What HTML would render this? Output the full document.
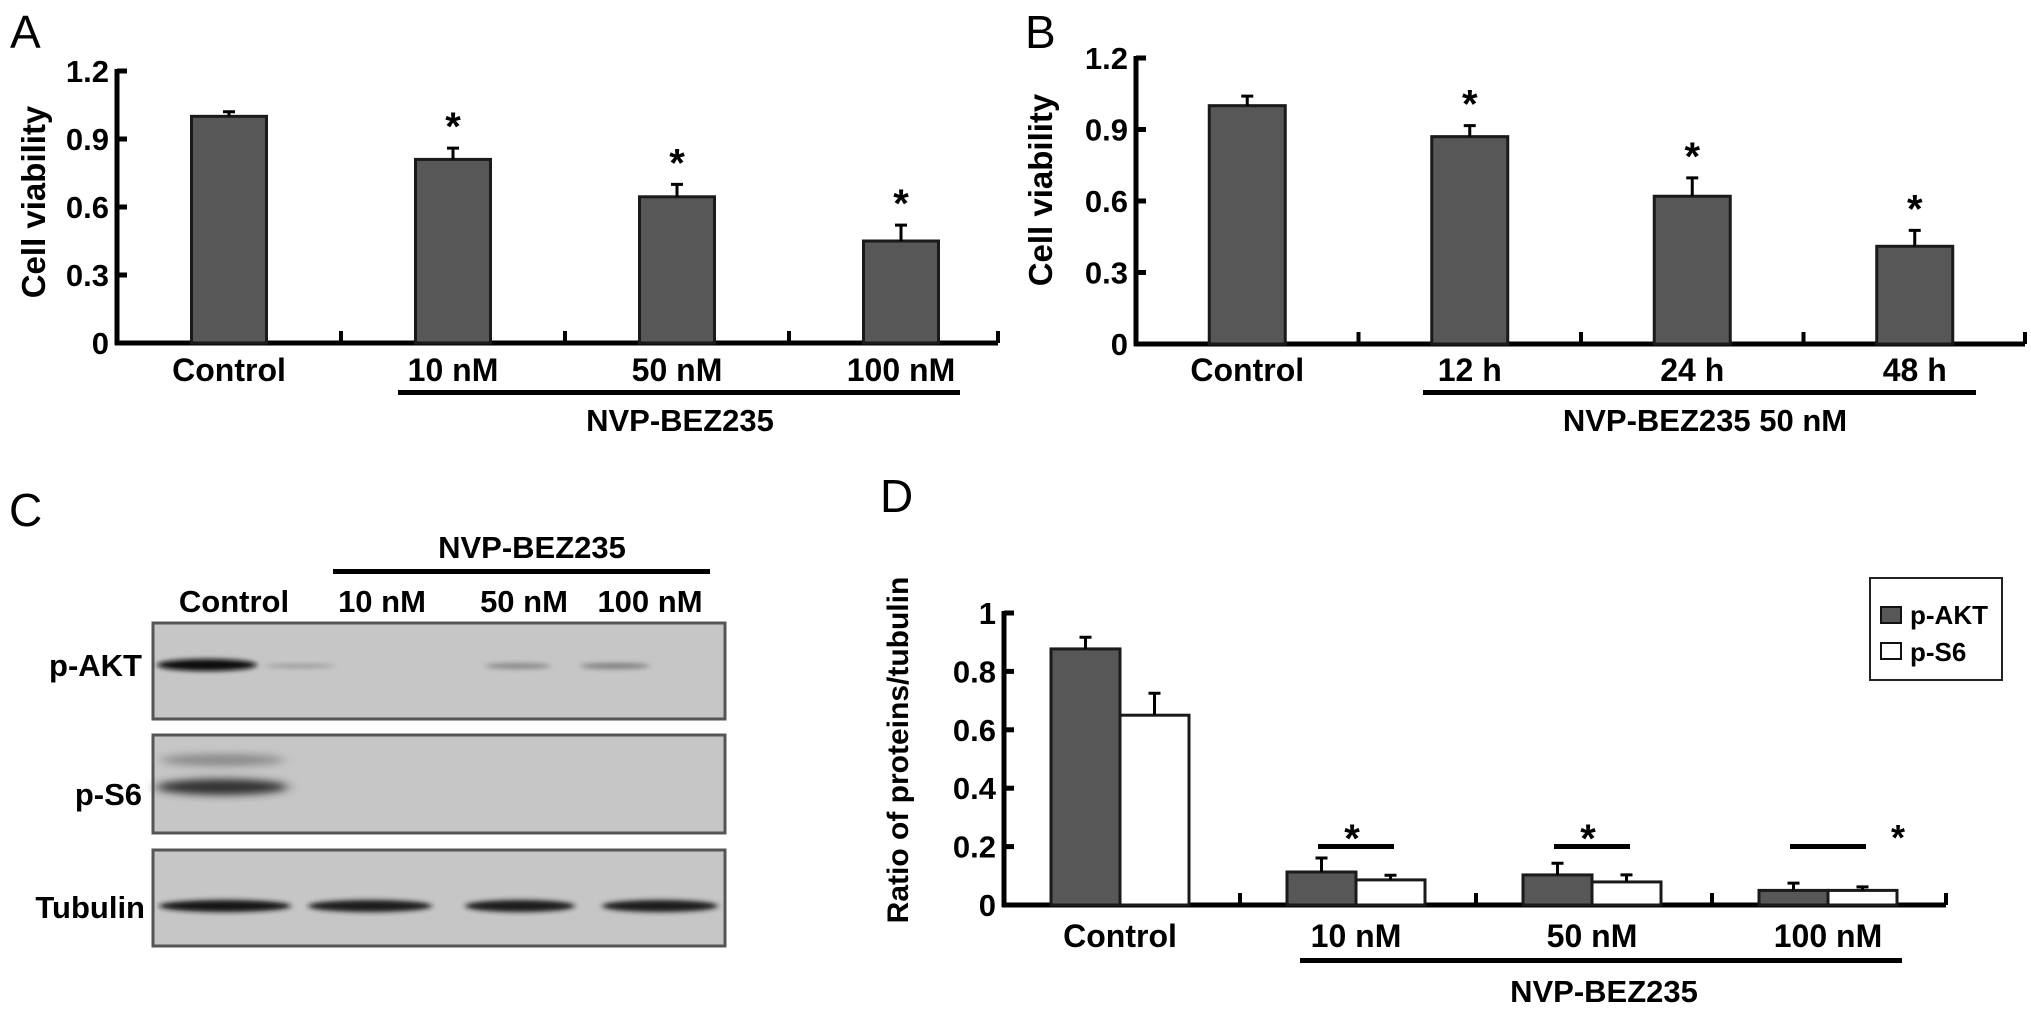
<!DOCTYPE html>
<html><head><meta charset="utf-8">
<style>
html,body{margin:0;padding:0;background:#fff;}
svg{display:block;}
text{font-family:"Liberation Sans",Arial,sans-serif;font-weight:bold;fill:#000;}
.plbl{font-weight:normal;font-size:46px;}
</style></head>
<body>
<svg id="fig" width="2031" height="1016" viewBox="0 0 2031 1016" xmlns="http://www.w3.org/2000/svg">
<defs>
<filter id="blur3" x="-20%" y="-200%" width="140%" height="500%"><feGaussianBlur stdDeviation="3 2.5"/></filter>
<filter id="blur5" x="-20%" y="-200%" width="140%" height="500%"><feGaussianBlur stdDeviation="6 4"/></filter>
</defs>
<text class="plbl" x="10" y="48">A</text>
<text class="plbl" x="1025" y="48">B</text>
<text class="plbl" x="9" y="526">C</text>
<text class="plbl" x="880" y="512">D</text>

<g id="panelA"></g>
<g id="panelB"></g>
<g id="panelD"></g>

<!-- Panel C western blot -->
<g>
  <text x="532" y="558" text-anchor="middle" font-size="31">NVP-BEZ235</text>
  <rect x="333" y="569" width="377" height="5" fill="#000"/>
  <text x="234" y="612" text-anchor="middle" font-size="31">Control</text>
  <text x="382" y="612" text-anchor="middle" font-size="31">10 nM</text>
  <text x="524" y="612" text-anchor="middle" font-size="31">50 nM</text>
  <text x="650" y="612" text-anchor="middle" font-size="31">100 nM</text>

  <text x="142" y="676" text-anchor="end" font-size="31">p-AKT</text>
  <rect x="153" y="623" width="572" height="96" fill="#c6c6c6" stroke="#555" stroke-width="3"/>
  <ellipse cx="207" cy="665" rx="50" ry="6" fill="#0a0a0a" filter="url(#blur3)"/>
  <ellipse cx="300" cy="666" rx="35" ry="2" fill="#9a9a9a" filter="url(#blur3)"/>
  <ellipse cx="518" cy="666" rx="33" ry="3" fill="#8a8a8a" filter="url(#blur3)"/>
  <ellipse cx="615" cy="666" rx="35" ry="3" fill="#808080" filter="url(#blur3)"/>

  <text x="142" y="805" text-anchor="end" font-size="31">p-S6</text>
  <rect x="153" y="735" width="572" height="98" fill="#c6c6c6" stroke="#555" stroke-width="3"/>
  <ellipse cx="222" cy="760" rx="62" ry="6" fill="#8a8a8a" filter="url(#blur5)"/>
  <ellipse cx="222" cy="787" rx="66" ry="8" fill="#333" filter="url(#blur5)"/>

  <text x="145" y="918" text-anchor="end" font-size="31">Tubulin</text>
  <rect x="153" y="850" width="572" height="96" fill="#c6c6c6" stroke="#555" stroke-width="3"/>
  <ellipse cx="225" cy="906" rx="66" ry="6" fill="#151515" filter="url(#blur3)"/>
  <ellipse cx="370" cy="906" rx="62" ry="6" fill="#1c1c1c" filter="url(#blur3)"/>
  <ellipse cx="520" cy="906" rx="55" ry="6" fill="#1c1c1c" filter="url(#blur3)"/>
  <ellipse cx="660" cy="906" rx="58" ry="6" fill="#1c1c1c" filter="url(#blur3)"/>
</g>
</svg>
<script>
// ---- Panel A data ----
const aCategories = ["Control", "10 nM", "50 nM", "100 nM"];
const aValues = [1.0, 0.81, 0.645, 0.45];
const aErrors = [0.02, 0.05, 0.055, 0.07];
const aStars = [false, true, true, true];
const aTicks = ["0", "0.3", "0.6", "0.9", "1.2"];
// ---- Panel B data ----
const bCategories = ["Control", "12 h", "24 h", "48 h"];
const bValues = [1.0, 0.87, 0.62, 0.41];
const bErrors = [0.04, 0.046, 0.077, 0.067];
const bStars = [false, true, true, true];
const bTicks = ["0", "0.3", "0.6", "0.9", "1.2"];
// ---- Panel D data ----
const dCategories = ["Control", "10 nM", "50 nM", "100 nM"];
const dAkt = [0.877, 0.113, 0.103, 0.05];
const dAktErr = [0.04, 0.048, 0.04, 0.025];
const dS6 = [0.65, 0.086, 0.079, 0.05];
const dS6Err = [0.075, 0.016, 0.024, 0.012];
const dTicks = ["0", "0.2", "0.4", "0.6", "0.8", "1"];

const NS = "http://www.w3.org/2000/svg";
function mk(parent, tag, attrs, txt) {
  const e = document.createElementNS(NS, tag);
  for (const k in attrs) e.setAttribute(k, attrs[k]);
  if (txt !== undefined) e.textContent = txt;
  parent.appendChild(e);
  return e;
}

function drawAxes(g, c, ticks, tickMax, ylabel, ylx, yly, nCats) {
  const y = v => c.y0 - v / tickMax * (c.y0 - c.yTop);
  let ax = mk(g, "line", {x1: c.x0, y1: c.yTop - 2, x2: c.x0, y2: c.y0 + 2, stroke: "#000", "stroke-width": 5});
  
  
  let xa = mk(g, "line", {x1: c.x0 - 2, y1: c.y0, x2: c.xEnd, y2: c.y0, stroke: "#000", "stroke-width": 5});
  
  
  ticks.forEach((t, i) => {
    const v = tickMax * i / (ticks.length - 1);
    const ty = y(v);
    let tl = mk(g, "line", {x1: c.x0, y1: ty, x2: c.x0 + 10, y2: ty, stroke: "#000", "stroke-width": 5});
    
    
    let tx = mk(g, "text", {x: c.x0 - 8, y: ty + 11, "text-anchor": "end", "font-size": 31}, t);
    
    
  });
  for (let i = 1; i <= nCats; i++) {
    const xx = Math.min(c.x0 + i * c.band, c.xEnd);
    let d = mk(g, "line", {x1: xx, y1: c.y0, x2: xx, y2: c.y0 - 12, stroke: "#000", "stroke-width": 4});
    
    
  }
  let yl = mk(g, "text", {x: ylx, y: yly, "text-anchor": "middle", "font-size": c.ylFont, transform: `rotate(-90 ${ylx} ${yly})`}, ylabel);
  
  
  return y;
}

function bar(g, x, w, y0, yt, fill, name) {
  let r = mk(g, "rect", {x: x, y: yt, width: w, height: y0 - yt, fill: fill, stroke: "#1a1a1a", "stroke-width": 3});
  
  
}
function errbar(g, cx, yt, ye) {
  let e = mk(g, "path", {d: `M${cx},${yt} V${ye} M${cx - 6},${ye} H${cx + 6}`, stroke: "#000", "stroke-width": 3, fill: "none"});
  
  
}
function star(g, x, yy, size) {
  let s = mk(g, "text", {x: x, y: yy, "text-anchor": "middle", "font-size": size || 40}, "*");
  
  
}

function singleChart(gid, c, cats, vals, errs, stars, ticks, tickMax, ylabel, ylx, yly, group) {
  const g = document.getElementById(gid);
  const y = drawAxes(g, c, ticks, tickMax, ylabel, ylx, yly, cats.length);
  cats.forEach((cat, i) => {
    const cx = c.x0 + c.band * (i + 0.5);
    const yt = y(vals[i]);
    bar(g, cx - c.bw / 2, c.bw, c.y0, yt, "#575757", "bar-" + cat.replace(/\s+/g, "").toLowerCase());
    const ye = y(vals[i] + errs[i]);
    errbar(g, cx, yt, ye);
    if (stars[i]) star(g, cx, ye - 8);
    let lb = mk(g, "text", {x: cx, y: 381, "text-anchor": "middle", "font-size": 32}, cat);
    
    
  });
  let ul = mk(g, "rect", {x: group.x1, y: 390, width: group.x2 - group.x1, height: 5, fill: "#000"});
  
  
  let gt = mk(g, "text", {x: group.cx, y: 431, "text-anchor": "middle", "font-size": 31}, group.label);
  
  
}

singleChart("panelA", {x0: 117, xEnd: 998, y0: 343, yTop: 71, band: 224, bw: 75, ylFont: 33},
  aCategories, aValues, aErrors, aStars, aTicks, 1.2, "Cell viability", 45, 202,
  {x1: 398, x2: 960, cx: 680, label: "NVP-BEZ235"});
singleChart("panelB", {x0: 1136, xEnd: 2025, y0: 344, yTop: 58, band: 222.5, bw: 76, ylFont: 33},
  bCategories, bValues, bErrors, bStars, bTicks, 1.2, "Cell viability", 1052, 190,
  {x1: 1423, x2: 1976, cx: 1705, label: "NVP-BEZ235 50 nM"});

// ---- Panel D grouped chart ----
(function () {
  const g = document.getElementById("panelD");
  const c = {x0: 1004, xEnd: 1946, y0: 905, yTop: 613, band: 236, bw: 69, ylFont: 30};
  const y = drawAxes(g, c, dTicks, 1.0, "Ratio of proteins/tubulin", 908, 750, dCategories.length);
  dCategories.forEach((cat, i) => {
    const cx = 1002 + c.band * (i + 0.5);
    const key = cat.replace(/\s+/g, "").toLowerCase();
    const ya = y(dAkt[i]), ys = y(dS6[i]);
    bar(g, cx - c.bw, c.bw, c.y0, ya, "#575757", "bar-pakt-" + key);
    bar(g, cx, c.bw, c.y0, ys, "#ffffff", "bar-ps6-" + key);
    errbar(g, cx - c.bw / 2, ya, y(dAkt[i] + dAktErr[i]));
    errbar(g, cx + c.bw / 2, ys, y(dS6[i] + dS6Err[i]));
    let lb = mk(g, "text", {x: cx, y: 947, "text-anchor": "middle", "font-size": 32}, cat);
    
    
    if (i > 0) {
      const top = y(Math.max(dAkt[i] + dAktErr[i], dS6[i] + dS6Err[i]));
      const ly = Math.min(846, top - 12);
      let sl = mk(g, "rect", {x: cx - 38, y: ly - 2, width: 76, height: 5, fill: "#000"});
      
      
      if (i < 3) star(g, cx - 4, ly + 12 - 8 - 8 + 10, 40);
      else star(g, cx + 70, ly + 4, 36);
    }
  });
  let ul = mk(g, "rect", {x: 1300, y: 958, width: 602, height: 5, fill: "#000"});
  
  
  let gt = mk(g, "text", {x: 1604, y: 1002, "text-anchor": "middle", "font-size": 31}, "NVP-BEZ235");
  
  
  // legend
  let lg = mk(g, "rect", {x: 1870, y: 578, width: 132, height: 102, fill: "#fff", stroke: "#222", "stroke-width": 2});
  
  
  let s1 = mk(g, "rect", {x: 1881, y: 607, width: 20, height: 16, fill: "#575757", stroke: "#111", "stroke-width": 2});
  
  
  let t1 = mk(g, "text", {x: 1910, y: 624, "font-size": 26}, "p-AKT");
  
  
  let s2 = mk(g, "rect", {x: 1881, y: 643, width: 20, height: 16, fill: "#fff", stroke: "#111", "stroke-width": 2});
  
  
  let t2 = mk(g, "text", {x: 1910, y: 661, "font-size": 26}, "p-S6");
  
  
})();
</script>
</body></html>
